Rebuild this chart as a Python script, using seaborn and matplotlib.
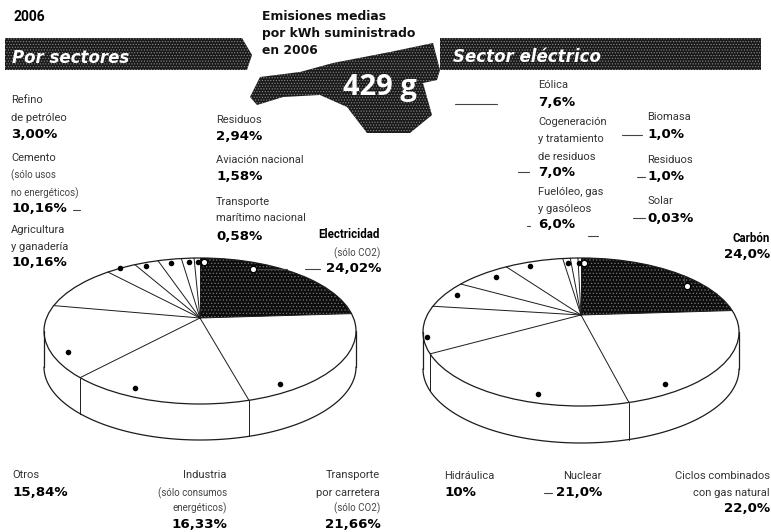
import numpy as np
import pandas as pd
import matplotlib
matplotlib.use("Agg")
import matplotlib.pyplot as plt
from matplotlib.patches import Polygon, Ellipse
import seaborn as sns

# wedge sizes go clockwise from the top; cemento is printed as 10,16% but drawn about 3.7
SECTOR_NAMES = ["Electricidad", "Transporte por carretera", "Industria", "Otros", "Agricultura",
                "Cemento", "Refino", "Residuos", "Aviacion", "Maritimo"]
SECTOR_VALUES = [24.02, 21.66, 16.33, 15.84, 10.16, 3.73, 3.00, 2.94, 1.58, 0.58]
ELECTRIC_NAMES = ["Carbon", "Ciclos", "Nuclear", "Hidraulica", "Fueloleo", "Cogeneracion", "Eolica",
                  "Biomasa", "Residuos", "Solar"]
ELECTRIC_VALUES = [24.0, 22.0, 21.0, 10.0, 6.0, 7.0, 7.6, 1.0, 1.0, 0.03]

# leader dots: percent of the way round the pie, and how far out along the ray
SECTOR_DOT_TURN = [7.45, 41.8, 56.5, 67.1, 89.7, 92.86, 96.2, 98.47, 99.78, 100.5]
SECTOR_DOT_OUT = [0.9, 0.9, 0.9, 0.9, 1.0, 0.95, 0.94, 0.93, 0.93, 0.93]
ELECTRIC_DOT_TURN = [16.56, 41.8, 54.0, 70.3, 80.3, 87.2, 92.8, 98.2, 99.66, 100.45]
ELECTRIC_DOT_OUT = [0.9, 0.9, 0.9, 0.98, 0.92, 0.9, 0.93, 0.92, 0.92, 0.92]

PIE_LEFT = dict(cx=200, cy=331, a=156, b=73, apex_y=318, depth=36)
PIE_RIGHT = dict(cx=581, cy=332, a=158, b=74, apex_y=315, depth=37)

NARROW = "Roboto"
WIDE = "DejaVu Sans"
INK = "#1c1c1c"

# (x, y, text, kind, align)
LABELS = [
    (11, 100, "Refino", "n", "left"), (11, 118, "de petróleo", "n", "left"), (11, 134, "3,00%", "p", "left"),
    (11, 158, "Cemento", "n", "left"), (11, 175, "(sólo usos", "s", "left"), (11, 193, "no energéticos)", "s", "left"),
    (11, 208, "10,16%", "p", "left"),
    (11, 230, "Agricultura", "n", "left"), (11, 247, "y ganadería", "n", "left"), (11, 263, "10,16%", "p", "left"),
    (216, 120, "Residuos", "n", "left"), (216, 137, "2,94%", "p", "left"),
    (216, 160, "Aviación nacional", "n", "left"), (216, 177, "1,58%", "p", "left"),
    (216, 202, "Transporte", "n", "left"), (216, 218, "marítimo nacional", "n", "left"), (216, 236, "0,58%", "p", "left"),
    (380, 235, "Electricidad", "b", "right"), (380, 253, "(sólo CO2)", "s", "right"), (381, 269, "24,02%", "p", "right"),
    (12, 475, "Otros", "n", "left"), (12, 492, "15,84%", "p", "left"),
    (227, 475, "Industria", "n", "right"), (227, 493, "(sólo consumos", "s", "right"),
    (227, 508, "energéticos)", "s", "right"), (227, 525, "16,33%", "p", "right"),
    (380, 475, "Transporte", "n", "right"), (380, 493, "por carretera", "n", "right"),
    (380, 508, "(sólo CO2)", "s", "right"), (381, 525, "21,66%", "p", "right"),
    (538, 85, "Eólica", "n", "left"), (538, 102, "7,6%", "p", "left"),
    (538, 122, "Cogeneración", "n", "left"), (538, 139, "y tratamiento", "n", "left"),
    (538, 157, "de residuos", "n", "left"), (538, 172, "7,0%", "p", "left"),
    (538, 192, "Fuelóleo, gas", "n", "left"), (538, 209, "y gasóleos", "n", "left"), (538, 225, "6,0%", "p", "left"),
    (647, 117, "Biomasa", "n", "left"), (647, 135, "1,0%", "p", "left"),
    (647, 160, "Residuos", "n", "left"), (647, 177, "1,0%", "p", "left"),
    (647, 201, "Solar", "n", "left"), (647, 218, "0,03%", "p", "left"),
    (770, 238, "Carbón", "b", "right"), (770, 255, "24,0%", "p", "right"),
    (444, 476, "Hidráulica", "n", "left"), (444, 493, "10%", "p", "left"),
    (602, 476, "Nuclear", "n", "right"), (602, 493, "21,0%", "p", "right"),
    (770, 476, "Ciclos combinados", "n", "right"), (770, 493, "con gas natural", "n", "right"),
    (770, 508, "22,0%", "p", "right"),
]

STYLES = {
    "n": dict(family=NARROW, fontsize=8.0, color="#333333"),
    "s": dict(family=NARROW, fontsize=7.0, color="#444444"),
    "b": dict(family=NARROW, fontsize=8.3, fontweight="bold", color="black"),
    "p": dict(family=WIDE, fontsize=9.6, fontweight="bold", color="black"),
}

# broken leader lines that survive in the scan
LEADERS = [
    ((253, 269), (287, 269)), ((305, 269), (320, 269)), ((455, 104), (497, 104)),
    ((73, 210), (80, 210)), ((622, 135), (642, 135)), ((637, 177), (645, 177)),
    ((633, 218), (645, 218)), ((529, 172), (518, 172)), ((530, 226), (527, 226)),
    ((588, 236), (598, 236)), ((684, 287), (684, 275)), ((544, 493), (552, 493)),
]

MAP_OUTLINE = [(250, 97), (260, 77), (300, 72), (333, 63), (390, 52), (433, 43), (440, 70), (437, 80),
               (423, 83), (432, 115), (410, 133), (367, 133), (347, 107), (320, 95), (283, 97), (257, 105)]
BAR_LEFT = [(5, 38), (242, 38), (252, 55), (247, 70), (5, 70)]
BAR_RIGHT = [(440, 38), (761, 38), (761, 70), (440, 70)]


def rim_point(pie, turn):
    # ray from the apex out to the ellipse, the apex is not the ellipse centre
    angle = 2 * np.pi * turn
    dx = pie["a"] * np.sin(angle)
    dy = -pie["b"] * np.cos(angle)
    off = pie["apex_y"] - pie["cy"]
    qa = (dx / pie["a"]) ** 2 + (dy / pie["b"]) ** 2
    qb = 2 * off * dy / pie["b"] ** 2
    qc = (off / pie["b"]) ** 2 - 1
    s = (-qb + np.sqrt(qb ** 2 - 4 * qa * qc)) / (2 * qa)
    return pie["cx"] + s * dx, pie["apex_y"] + s * dy


def draw_pie(ax, pie, values, dot_turn, dot_out):
    shares = np.array(values) / 100.0
    edges = np.concatenate([[0], np.cumsum(shares)])
    apex = (pie["cx"], pie["apex_y"])

    # dark first wedge
    arc = [rim_point(pie, t) for t in np.linspace(0, edges[1], 60)]
    ax.add_patch(Polygon([apex] + arc, closed=True, facecolor="#0d0d0d", edgecolor="#777777",
                         hatch=".....", lw=0, zorder=2))

    ax.add_patch(Ellipse((pie["cx"], pie["cy"]), 2 * pie["a"], 2 * pie["b"], fill=False,
                         edgecolor=INK, lw=0.9, zorder=3))

    # side wall
    xs = pie["cx"] + pie["a"] * np.cos(np.linspace(0, np.pi, 120))
    ys = pie["cy"] + pie["depth"] + pie["b"] * np.sin(np.linspace(0, np.pi, 120))
    ax.plot(xs, ys, color=INK, lw=0.9)
    for x in (pie["cx"] - pie["a"], pie["cx"] + pie["a"]):
        ax.plot([x, x], [pie["cy"], pie["cy"] + pie["depth"]], color=INK, lw=0.9)

    for turn in edges[1:-1]:
        x, y = rim_point(pie, turn)
        ax.plot([apex[0], x], [apex[1], y], color=INK, lw=0.7, zorder=3)
        if y > pie["cy"]:
            ax.plot([x, x], [y, y + pie["depth"]], color=INK, lw=0.7)
    x0, y0 = rim_point(pie, 0)
    ax.plot([apex[0], x0], [apex[1], y0], color=INK, lw=0.7, zorder=3)

    # leader dots
    pts = [rim_point(pie, t / 100.0) for t in dot_turn]
    dots = pd.DataFrame({"x": [apex[0] + r * (p[0] - apex[0]) for p, r in zip(pts, dot_out)],
                         "y": [apex[1] + r * (p[1] - apex[1]) for p, r in zip(pts, dot_out)]})
    sns.scatterplot(data=dots.iloc[[0, -1]], x="x", y="y", ax=ax, s=22, facecolor="white",
                    edgecolor="black", linewidth=1.0, zorder=5, legend=False)
    sns.scatterplot(data=dots.iloc[1:-1], x="x", y="y", ax=ax, s=16, color="black",
                    linewidth=0, zorder=5, legend=False)


def main():
    sns.set_theme(style="white")
    fig, ax = plt.subplots(figsize=(7.71, 5.32), dpi=100)
    fig.subplots_adjust(0, 0, 1, 1)
    ax.set_xlim(0, 771)
    ax.set_ylim(532, 0)
    ax.set_axis_off()
    plt.rcParams["hatch.linewidth"] = 0.5

    for shape in (BAR_LEFT, BAR_RIGHT, MAP_OUTLINE):
        ax.add_patch(Polygon(shape, closed=True, facecolor="#1a1a1a", edgecolor="#8a8a8a",
                             hatch="......", lw=0, zorder=1))

    draw_pie(ax, PIE_LEFT, SECTOR_VALUES, SECTOR_DOT_TURN, SECTOR_DOT_OUT)
    draw_pie(ax, PIE_RIGHT, ELECTRIC_VALUES, ELECTRIC_DOT_TURN, ELECTRIC_DOT_OUT)

    for a, b in LEADERS:
        ax.plot([a[0], b[0]], [a[1], b[1]], color="#444444", lw=0.8, zorder=4)

    for x, y, text, kind, align in LABELS:
        ax.text(x, y, text, ha=align, va="center", zorder=6, **STYLES[kind])

    ax.text(14, 17, "2006", family=NARROW, fontsize=10, fontweight="bold", color="black", va="center")
    for y, text in zip((16, 33, 50), ("Emisiones medias", "por kWh suministrado", "en 2006")):
        ax.text(262, y, text, family=WIDE, fontsize=8.9, fontweight="bold", color="#111111", va="center")
    ax.text(12, 58, "Por sectores", family=WIDE, fontsize=12, fontweight="bold", style="italic",
            color="white", va="center", zorder=6)
    ax.text(453, 57, "Sector eléctrico", family=WIDE, fontsize=12, fontweight="bold", style="italic",
            color="white", va="center", zorder=6)
    ax.text(343, 88, "429 g", family="Open Sans", fontsize=21, fontweight="bold", color="white", va="center", zorder=6)

    fig.savefig("out.png", dpi=100)
    plt.close(fig)


if __name__ == "__main__":
    main()
